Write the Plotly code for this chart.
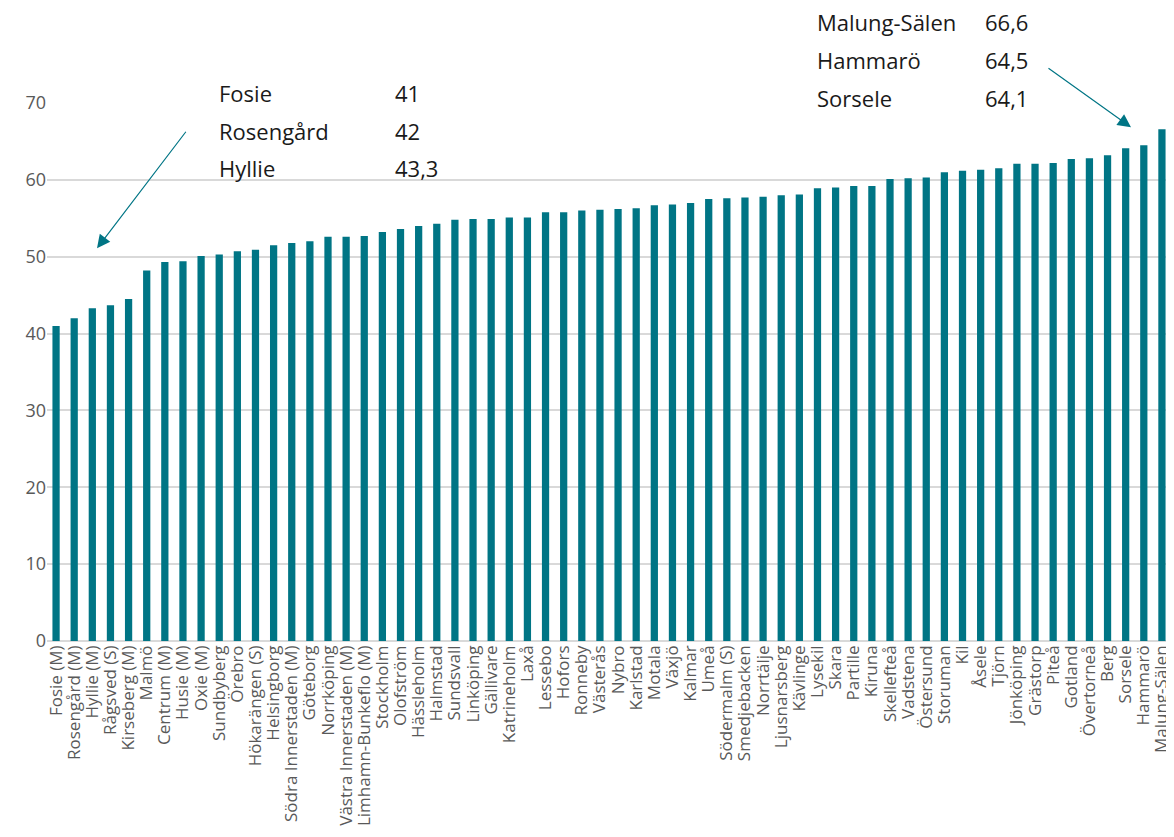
import plotly.graph_objects as go

categories = [
    "Fosie (M)", "Rosengård (M)", "Hyllie (M)", "Rågsved (S)", "Kirseberg (M)", "Malmö",
    "Centrum (M)", "Husie (M)", "Oxie (M)", "Sundbyberg", "Örebro", "Hökarängen (S)",
    "Helsingborg", "Södra Innerstaden (M)", "Göteborg", "Norrköping", "Västra Innerstaden (M)",
    "Limhamn-Bunkeflo (M)", "Stockholm", "Olofström", "Hässleholm", "Halmstad", "Sundsvall",
    "Linköping", "Gällivare", "Katrineholm", "Laxå", "Lessebo", "Hofors", "Ronneby", "Västerås",
    "Nybro", "Karlstad", "Motala", "Växjö", "Kalmar", "Umeå", "Södermalm (S)", "Smedjebacken",
    "Norrtälje", "Ljusnarsberg", "Kävlinge", "Lysekil", "Skara", "Partille", "Kiruna",
    "Skellefteå", "Vadstena", "Östersund", "Storuman", "Kil", "Åsele", "Tjörn", "Jönköping",
    "Grästorp", "Piteå", "Gotland", "Övertorneå", "Berg", "Sorsele", "Hammarö", "Malung-Sälen",
]
values = [
    41.0, 42.0, 43.3, 43.7, 44.5, 48.2, 49.3, 49.4, 50.1, 50.3, 50.7, 50.9,
    51.5, 51.8, 52.0, 52.6, 52.6, 52.7, 53.2, 53.6, 54.0, 54.3, 54.8,
    54.9, 54.9, 55.1, 55.1, 55.8, 55.8, 56.0, 56.1, 56.2, 56.3, 56.7, 56.8,
    57.0, 57.5, 57.6, 57.7, 57.8, 58.0, 58.1, 58.9, 59.0, 59.2, 59.2,
    60.1, 60.2, 60.3, 61.0, 61.2, 61.3, 61.5, 62.1, 62.1, 62.2, 62.7, 62.8,
    63.2, 64.1, 64.5, 66.6,
]
low_names = ["Fosie", "Rosengård", "Hyllie"]
low_values = [41, 42, 43.3]
high_names = ["Malung-Sälen", "Hammarö", "Sorsele"]
high_values = [66.6, 64.5, 64.1]
y_ticks = [0, 10, 20, 30, 40, 50, 60, 70]

TEAL = "#007585"
FONT = "'Open Sans', Lato, sans-serif"
ANN_FONT = dict(size=22, color="#1a1a1a", family=FONT)


def fmt(v):
    return ("%g" % v).replace(".", ",")


fig = go.Figure(go.Bar(x=categories, y=values, marker=dict(color=TEAL, line=dict(width=0)),
                       width=0.4))

annotations = []
left_rows = [1.0186, 0.948, 0.879]
for name, val, py in zip(low_names, low_values, left_rows):
    annotations.append(dict(x=0.1512, y=py, xref="paper", yref="paper", text=name,
                            showarrow=False, xanchor="left", yanchor="middle", font=ANN_FONT))
    annotations.append(dict(x=0.3078, y=py, xref="paper", yref="paper", text=fmt(val),
                            showarrow=False, xanchor="left", yanchor="middle", font=ANN_FONT))
right_rows = [1.1506, 1.0799, 1.0093]
for name, val, py in zip(high_names, high_values, right_rows):
    annotations.append(dict(x=0.6833, y=py, xref="paper", yref="paper", text=name,
                            showarrow=False, xanchor="left", yanchor="middle", font=ANN_FONT))
    annotations.append(dict(x=0.8327, y=py, xref="paper", yref="paper", text=fmt(val),
                            showarrow=False, xanchor="left", yanchor="middle", font=ANN_FONT))

# arrows
annotations.append(dict(x=0.0445, y=0.730, xref="paper", yref="paper", text="",
                        showarrow=True, ax=90, ay=-118, axref="pixel", ayref="pixel",
                        arrowhead=2, arrowsize=2.2, arrowwidth=1.2, arrowcolor=TEAL))
annotations.append(dict(x=0.9644, y=0.955, xref="paper", yref="paper", text="",
                        showarrow=True, ax=-84, ay=-60, axref="pixel", ayref="pixel",
                        arrowhead=2, arrowsize=2.2, arrowwidth=1.2, arrowcolor=TEAL))

# page body has an 8px margin, so the figure is sized to fit the 1174x837 window
fig.update_layout(
    width=1166, height=829,
    margin=dict(l=39, r=3, t=95, b=196),
    paper_bgcolor="white", plot_bgcolor="white",
    showlegend=False,
    font=dict(family=FONT, color="#595959"),
    annotations=annotations,
    xaxis=dict(type="category", tickangle=-90, tickfont=dict(size=17, color="#595959"),
               tickmode="array", tickvals=categories, ticktext=categories,
               showgrid=False, showline=False, ticks="", range=[-0.5, len(categories) - 0.5],
               automargin=False),
    yaxis=dict(range=[0, 70], tickvals=y_ticks, showgrid=True, gridcolor="#d9d9d9",
               gridwidth=1.5, zeroline=True, zerolinecolor="#d9d9d9", zerolinewidth=1.5,
               tickfont=dict(size=18, color="#595959"), ticks="", automargin=False,
               showline=False),
)

fig.write_html("out.html")
